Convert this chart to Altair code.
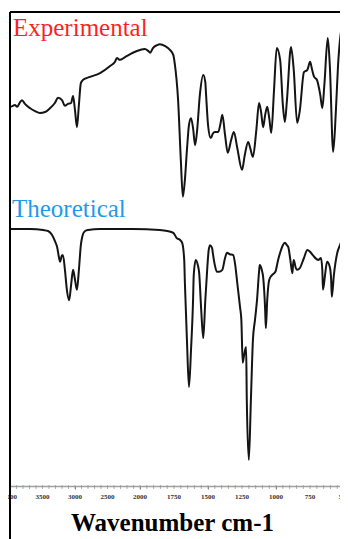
import altair as alt
import pandas as pd

# Experimental spectrum (wavenumber cm-1, relative signal)
exp_wavenumber = [4000, 3955, 3925, 3890, 3845, 3815, 3770, 3690, 3615, 3540, 3460, 3385, 3310, 3260, 3200,
                  3155, 3110, 3060, 3030, 3000, 2970, 2940, 2910, 2875, 2770, 2615, 2460, 2385, 2355, 2310,
                  2230, 2110, 2000, 1965, 1940, 1925, 1905, 1875, 1855, 1815, 1780, 1755, 1745, 1720, 1700,
                  1685, 1670, 1655, 1640, 1625, 1610, 1595, 1580, 1560, 1535, 1520, 1515, 1500, 1480, 1465,
                  1450, 1425, 1410, 1395, 1375, 1355, 1330, 1310, 1285, 1250, 1230, 1205, 1190, 1170, 1145,
                  1125, 1110, 1095, 1080, 1065, 1050, 1035, 1015, 995, 970, 950, 935, 920, 890, 870,
                  845, 825, 795, 770, 750, 735, 720, 700, 675, 660, 645, 620, 605, 580, 560,
                  545, 530, 515, 495, 480]
exp_signal = [80.0, 80.2, 80.4, 80.0, 81.0, 81.4, 80.6, 79.7, 79.1, 78.7, 78.9, 79.7, 80.8, 81.9, 81.4,
              80.2, 80.6, 80.8, 82.3, 79.3, 75.7, 80.4, 85.0, 85.7, 86.3, 87.1, 88.6, 89.5, 90.3, 89.9,
              90.5, 91.4, 92.0, 92.2, 91.8, 91.4, 92.4, 93.0, 93.2, 92.8, 92.0, 90.9, 89.2, 81.4, 68.8,
              61.0, 64.6, 70.9, 76.2, 77.6, 75.5, 71.9, 75.1, 82.5, 86.7, 85.2, 82.9, 76.2, 73.4, 74.3,
              74.7, 74.7, 76.2, 78.3, 74.1, 70.3, 73.0, 74.7, 71.3, 66.7, 69.8, 72.6, 71.3, 69.4, 75.1,
              80.8, 78.9, 75.7, 78.3, 80.0, 77.6, 74.5, 83.5, 92.4, 89.9, 80.4, 76.8, 81.4, 92.6, 87.8,
              76.6, 79.3, 87.3, 87.8, 89.5, 87.8, 86.3, 85.7, 82.5, 79.7, 84.6, 94.5, 88.8, 70.5, 79.3,
              88.4, 94.1, 96.8, 97.3, 97.7]

# Theoretical spectrum
theo_wavenumber = [4000, 3845, 3690, 3490, 3415, 3355, 3310, 3275, 3245, 3230, 3200, 3185, 3155, 3125, 3090,
                   3060, 3030, 3000, 2970, 2940, 2910, 2890, 2845, 2800, 2615, 2110, 1855, 1800, 1755, 1730,
                   1705, 1690, 1675, 1670, 1655, 1640, 1625, 1610, 1605, 1590, 1575, 1565, 1550, 1535, 1520,
                   1505, 1495, 1485, 1470, 1465, 1450, 1435, 1420, 1395, 1375, 1360, 1340, 1315, 1300, 1285,
                   1265, 1255, 1245, 1235, 1220, 1215, 1200, 1185, 1170, 1155, 1140, 1125, 1120, 1105, 1095,
                   1080, 1075, 1065, 1050, 1030, 1005, 985, 970, 950, 935, 920, 910, 895, 880, 875,
                   870, 855, 845, 825, 795, 770, 750, 730, 690, 670, 660, 655, 640, 625, 605,
                   595, 590, 575, 550, 530, 515, 495, 480]
theo_signal = [54.2, 54.2, 54.2, 54.0, 53.8, 53.0, 51.7, 50.4, 48.1, 47.3, 48.7, 48.7, 45.6, 41.4, 39.2,
               42.4, 45.6, 43.5, 41.4, 45.6, 50.8, 52.5, 53.8, 54.0, 54.2, 54.2, 54.0, 53.8, 53.4, 52.3,
               51.9, 51.3, 47.7, 42.8, 30.8, 20.9, 28.7, 39.2, 44.5, 47.7, 46.6, 44.9, 37.1, 31.2, 39.2,
               46.2, 49.8, 50.8, 50.2, 49.2, 46.6, 45.2, 45.2, 45.6, 48.1, 49.2, 48.9, 48.7, 46.6, 42.8,
               37.8, 35.0, 26.0, 27.6, 29.3, 18.1, 5.5, 18.1, 30.8, 35.0, 39.2, 45.2, 46.6, 45.6, 44.1,
               37.1, 33.3, 39.2, 43.5, 44.5, 45.2, 47.7, 49.2, 50.8, 51.3, 50.8, 50.4, 47.7, 44.9, 46.6,
               47.7, 46.0, 45.6, 46.0, 48.1, 49.8, 49.4, 48.7, 47.7, 48.1, 45.6, 41.4, 44.5, 47.3, 46.2,
               43.5, 39.9, 44.5, 49.2, 50.8, 51.9, 52.7, 53.4]

# Labels
series_names = ["Experimental", "Theoretical"]
series_colors = ["#ff1f1f", "#1f9ae8"]
label_wavenumber = [3954, 3970]
label_signal = [94.9, 56.8]

major_ticks = [4000, 3500, 3000, 2500, 2000, 1750, 1500, 1250, 1000, 750, 500]
minor_ticks = list(range(4000, 1999, -100)) + list(range(1950, 529, -50))

W, H = 330, 474

df = pd.concat([
    pd.DataFrame({"wavenumber": exp_wavenumber, "signal": exp_signal, "series": "Experimental"}),
    pd.DataFrame({"wavenumber": theo_wavenumber, "signal": theo_signal, "series": "Theoretical"}),
])
labels = pd.DataFrame({"wavenumber": label_wavenumber, "signal": label_signal,
                       "text": series_names, "color": series_colors})
minor = pd.DataFrame({"wavenumber": minor_ticks})
majors = pd.DataFrame({"wavenumber": major_ticks, "label": [str(v) for v in major_ticks]})

x_scale = alt.Scale(domain=[4000, 2000, 530], range=[0, 130, W], zero=False, nice=False)
y_scale = alt.Scale(domain=[0, 100], zero=False, nice=False)

x_axis = alt.Axis(
    values=major_ticks, labels=False, grid=False,
    domainColor="#a0a0a0", domainWidth=1.5, tickColor="#808080", tickSize=3,
    title="Wavenumber cm-1", titleFont="Liberation Serif", titleFontSize=25,
    titleFontWeight="bold", titleColor="#000000", titlePadding=21, titleX=162,
)

lines = alt.Chart(df).mark_line(color="#141414", strokeWidth=2, interpolate="monotone", clip=True).encode(
    x=alt.X("wavenumber:Q", scale=x_scale, axis=x_axis),
    y=alt.Y("signal:Q", scale=y_scale, axis=None),
    detail="series:N",
)

minor_ticks_layer = alt.Chart(minor).mark_tick(color="#909090", thickness=1, size=4).encode(
    x="wavenumber:Q", y=alt.value(H + 1),
)

tick_labels = alt.Chart(majors).mark_text(
    font="Liberation Serif", fontSize=7, fontWeight="bold", color="#333333",
    align="center", baseline="middle",
).encode(x="wavenumber:Q", y=alt.value(H + 11), text="label:N")

texts = alt.Chart(labels).mark_text(align="left", baseline="alphabetic",
                                    font="Liberation Serif", fontSize=25).encode(
    x="wavenumber:Q", y="signal:Q", text="text:N", color=alt.Color("color:N", scale=None),
)

frame_src = pd.DataFrame({"k": [0]})
top_rule = alt.Chart(frame_src).mark_rule(color="black", strokeWidth=2).encode(
    x=alt.value(0), x2=alt.value(W), y=alt.value(0))
left_rule = alt.Chart(frame_src).mark_rule(color="black", strokeWidth=2).encode(
    x=alt.value(0), y=alt.value(0), y2=alt.value(527))

chart = alt.layer(lines, minor_ticks_layer, tick_labels, texts, top_rule, left_rule).properties(
    width=W, height=H,
    autosize=alt.AutoSizeParams(type="none"),
    padding={"left": 2, "top": 4, "right": 0, "bottom": 53},
).configure_view(stroke=None)

chart.save("out.html", embed_options={"renderer": "svg", "actions": False})
